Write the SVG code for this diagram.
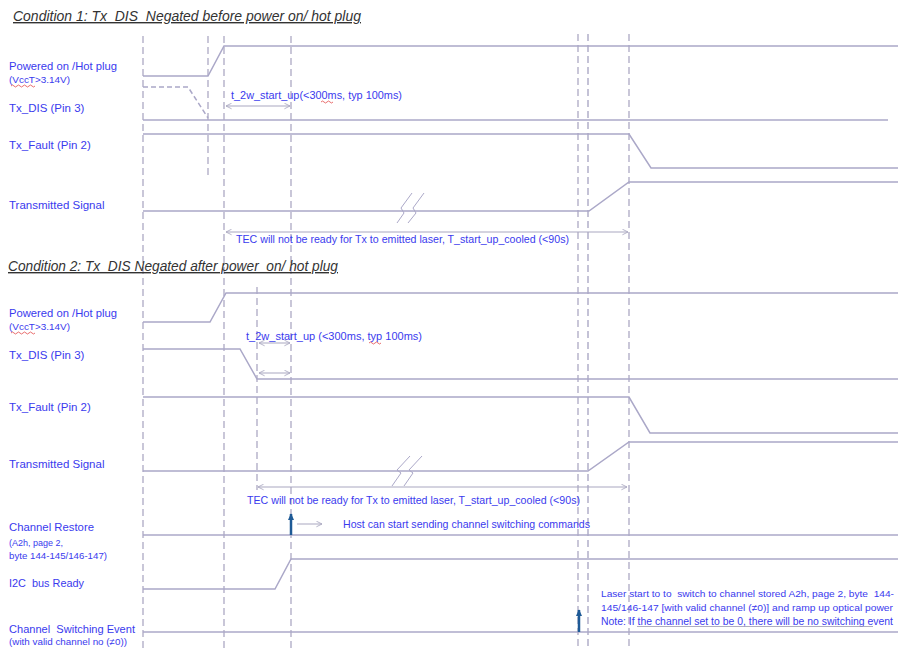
<svg xmlns="http://www.w3.org/2000/svg" width="898" height="648" viewBox="0 0 898 648">
<defs>
<style>
.bg{fill:#ffffff}
.sig{fill:none;stroke:#aba8c8;stroke-width:1.5}
.dash{fill:none;stroke:#9d99b8;stroke-width:1.1;stroke-dasharray:7 4}
.dashl{fill:none;stroke:#c4c2d6;stroke-width:2;stroke-dasharray:7 4}
.ann{fill:none;stroke:#a9a7c0;stroke-width:1}
.brk{fill:none;stroke:#aba8c8;stroke-width:1}
.blue{fill:none;stroke:#1e5a96;stroke-width:2.5}
.squig{fill:none;stroke:#e03030;stroke-width:0.7}
.title{font-family:"Liberation Sans",Arial,sans-serif;font-size:14px;font-style:italic;fill:#333333;text-decoration:underline}
.lbl{font-family:"Liberation Sans",Arial,sans-serif;font-size:11.5px;fill:#3a3aee}
.sm{font-family:"Liberation Sans",Arial,sans-serif;font-size:9px;fill:#3a3aee}
.txt{font-family:"Liberation Sans",Arial,sans-serif;font-size:10.5px;fill:#3a3aee}
.txn{font-family:"Liberation Sans",Arial,sans-serif;font-size:9.4px;fill:#3a3aee}
</style>
<marker id="ah" viewBox="0 0 10 10" refX="9" refY="5" markerWidth="7" markerHeight="7" orient="auto-start-reverse" markerUnits="userSpaceOnUse">
<path d="M1,1 L9,5 L1,9" fill="none" stroke="#a9a7c0" stroke-width="1.2"/>
</marker>
<marker id="bh" viewBox="0 0 10 10" refX="8" refY="5" markerWidth="8" markerHeight="8" orient="auto" markerUnits="userSpaceOnUse">
<path d="M0,1 L9,5 L0,9 Z" fill="#1e5a96"/>
</marker>
</defs>
<rect class="bg" x="0" y="0" width="898" height="648"/>

<g id="guides">
<line class="dash" x1="143" y1="36" x2="143" y2="648"/>
<line class="dash" x1="208" y1="36" x2="208" y2="178"/>
<line class="dash" x1="224" y1="36" x2="224" y2="648"/>
<line class="dash" x1="257" y1="287" x2="257" y2="490"/>
<line class="dash" x1="291" y1="36" x2="291" y2="648"/>
<line class="dash" x1="578" y1="34" x2="578" y2="648"/>
<line class="dashl" x1="588" y1="34" x2="588" y2="648"/>
<line class="dash" x1="629" y1="34" x2="629" y2="648"/>
</g>

<g id="cond1">
<text class="title" x="13" y="21" textLength="348" lengthAdjust="spacingAndGlyphs">Condition 1: Tx&#160; DIS&#160; Negated before power on/ hot plug</text>

<g id="c1-power">
<text class="lbl" x="9" y="70" textLength="108" lengthAdjust="spacingAndGlyphs">Powered on /Hot plug</text>
<text class="sm" x="9" y="83" textLength="61" lengthAdjust="spacingAndGlyphs">(VccT&gt;3.14V)</text>
<path class="squig" d="M11,86 q1.5,-2 3,0 t3,0 t3,0 t3,0 t3,0 t3,0 t3,0 t3,0"/>
<path class="sig" d="M143,76 L208,76 L224,46 L898,46"/>
</g>

<g id="c1-txdis">
<text class="lbl" x="9" y="112">Tx_DIS (Pin 3)</text>
<path class="sig" d="M143,87 L188,87 L208,118" stroke-dasharray="5 3"/>
<path class="sig" d="M143,120 L888,120"/>
<line class="ann" x1="226" y1="106" x2="290" y2="106" marker-start="url(#ah)" marker-end="url(#ah)"/>
<text class="txt" x="231" y="99" textLength="171" lengthAdjust="spacingAndGlyphs">t_2w_start_up(&lt;300ms, typ 100ms)</text>
<path class="squig" d="M321,102 q1.5,-2 3,0 t3,0 t3,0 t3,0"/>
</g>

<g id="c1-txfault">
<text class="lbl" x="9" y="149">Tx_Fault (Pin 2)</text>
<path class="sig" d="M143,134 L629,134 L651,168 L898,168"/>
</g>

<g id="c1-tx">
<text class="lbl" x="9" y="209">Transmitted Signal</text>
<path class="sig" d="M143,211 L589,211 L629,182 L898,182"/>
<path class="brk" d="M412,193 L401,208 L404,213 L397,223"/>
<path class="brk" d="M424,193 L413,208 L416,213 L408,223"/>
<line class="ann" x1="226" y1="232" x2="628" y2="232" marker-start="url(#ah)" marker-end="url(#ah)"/>
<text class="txt" x="236" y="243" textLength="333" lengthAdjust="spacingAndGlyphs">TEC will not be ready for Tx to emitted laser, T_start_up_cooled (&lt;90s)</text>
</g>
</g>

<g id="cond2">
<text class="title" x="8" y="271" textLength="330" lengthAdjust="spacingAndGlyphs">Condition 2: Tx&#160; DIS Negated after power&#160; on/ hot plug</text>

<g id="c2-power">
<text class="lbl" x="9" y="317" textLength="108" lengthAdjust="spacingAndGlyphs">Powered on /Hot plug</text>
<text class="sm" x="9" y="330" textLength="61" lengthAdjust="spacingAndGlyphs">(VccT&gt;3.14V)</text>
<path class="squig" d="M11,333 q1.5,-2 3,0 t3,0 t3,0 t3,0 t3,0 t3,0 t3,0 t3,0"/>
<path class="sig" d="M143,322 L210,322 L226,293 L898,293"/>
</g>

<g id="c2-txdis">
<text class="lbl" x="9" y="359">Tx_DIS (Pin 3)</text>
<path class="sig" d="M143,349 L240,349 L257,379 L898,379"/>
<text class="txt" x="246" y="340" textLength="176" lengthAdjust="spacingAndGlyphs">t_2w_start_up (&lt;300ms, typ 100ms)</text>
<path class="squig" d="M369,343 q1.5,-2 3,0 t3,0 t3,0 t3,0"/>
<line class="ann" x1="259" y1="343" x2="290" y2="343" marker-start="url(#ah)" marker-end="url(#ah)"/>
<line class="ann" x1="259" y1="373" x2="290" y2="373" marker-start="url(#ah)" marker-end="url(#ah)"/>
</g>

<g id="c2-txfault">
<text class="lbl" x="9" y="411">Tx_Fault (Pin 2)</text>
<path class="sig" d="M143,397 L629,397 L650,433 L898,433"/>
</g>

<g id="c2-tx">
<text class="lbl" x="9" y="468">Transmitted Signal</text>
<path class="sig" d="M143,471 L588,471 L629,442 L898,442"/>
<path class="brk" d="M410,456 L397,470 L401,473 L392,486"/>
<path class="brk" d="M422,456 L409,470 L413,473 L404,486"/>
<line class="ann" x1="258" y1="487" x2="627" y2="487" marker-start="url(#ah)" marker-end="url(#ah)"/>
<text class="txt" x="247" y="504" textLength="333" lengthAdjust="spacingAndGlyphs">TEC will not be ready for Tx to emitted laser, T_start_up_cooled (&lt;90s)</text>
</g>

<g id="c2-restore">
<text class="lbl" x="9" y="531" textLength="85" lengthAdjust="spacingAndGlyphs">Channel Restore</text>
<text class="sm" x="9" y="546">(A2h, page 2,</text>
<text class="sm" x="9" y="559" textLength="98" lengthAdjust="spacingAndGlyphs">byte 144-145/146-147)</text>
<path class="sig" d="M143,535 L898,535"/>
<line class="blue" x1="291" y1="535" x2="291" y2="514" marker-end="url(#bh)"/>
<line class="ann" x1="297" y1="524" x2="322" y2="524" marker-end="url(#ah)"/>
<text class="txt" x="343" y="528" textLength="247" lengthAdjust="spacingAndGlyphs">Host can start sending channel switching commands</text>
</g>

<g id="c2-i2c">
<text class="lbl" x="9" y="587" textLength="75" lengthAdjust="spacingAndGlyphs">I2C&#160; bus Ready</text>
<path class="sig" d="M143,589 L275,589 L291,559 L898,559"/>
</g>

<g id="c2-switch">
<text class="lbl" x="9" y="633" textLength="126" lengthAdjust="spacingAndGlyphs">Channel&#160; Switching Event</text>
<text class="sm" x="9" y="645" textLength="118" lengthAdjust="spacingAndGlyphs">(with valid channel no (≠0))</text>
<path class="sig" d="M143,632 L898,632"/>
<line class="blue" x1="579" y1="632" x2="579" y2="610" marker-end="url(#bh)"/>
<text class="txn" x="601" y="597" textLength="293" lengthAdjust="spacingAndGlyphs">Laser start to to&#160; switch to channel stored A2h, page 2, byte&#160; 144-</text>
<text class="txn" x="601" y="611" textLength="292" lengthAdjust="spacingAndGlyphs">145/146-147 [with valid channel (≠0)] and ramp up optical power</text>
<text class="txt" x="601" y="625" textLength="292" lengthAdjust="spacingAndGlyphs">Note: If the channel set to be 0, there will be no switching event</text>
<line x1="637" y1="626.5" x2="873" y2="626.5" stroke="#9a98b0" stroke-width="0.8"/>
</g>
</g>
</svg>
